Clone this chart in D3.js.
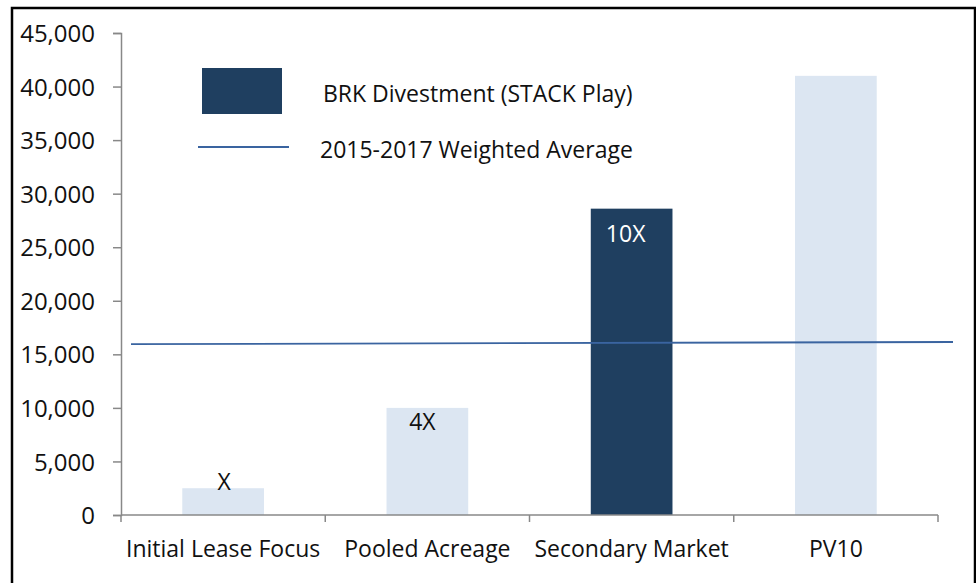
<!DOCTYPE html>
<html lang="en">
<head>
    <meta charset="utf-8">
    <title>BRK Divestment</title>
    <script src="https://d3js.org/d3.v7.min.js"></script>
    <style>
        body { margin: 0; background: #fff; }
        text { font-family: "Open Sans", "Noto Sans", sans-serif; fill: #111; }
    </style>
</head>
<body>
<svg width="976" height="583"></svg>
<script>
    // data
    var categories = ["Initial Lease Focus", "Pooled Acreage", "Secondary Market", "PV10"];
    var values = [2500, 10000, 28600, 41000];
    var highlight = [false, false, true, false];
    var barLabels = ["X", "4X", "10X", ""];
    var avgLine = [15950, 16150];   // 2015-2017 weighted average, start / end
    var yTicks = [0, 5000, 10000, 15000, 20000, 25000, 30000, 35000, 40000, 45000];

    // label nudges (the labels were hand placed in the original)
    var labelDx = [1, -5, -6, 0];
    var labelDy = [2, 22, 33, 0];

    var marge = {top:33, left:121, right:38, bottom:68};
    var width = 976, height = 583;
    var svg = d3.select("svg");

    // outer frame
    svg.append("rect")
        .attr("x", 12).attr("y", 8)
        .attr("width", 963).attr("height", 600)
        .attr("fill", "none")
        .attr("stroke", "#000")
        .attr("stroke-width", 2.5);

    var plotW = width - marge.left - marge.right;   // 817
    var plotH = 515 - marge.top;                    // 482

    var xScale = d3.scaleBand()
        .domain(categories)
        .range([0, plotW])
        .paddingInner(0.6)
        .paddingOuter(0.3);

    var yScale = d3.scaleLinear()
        .domain([0, 45000])
        .range([plotH, 0]);

    var g = svg.append("g")
        .attr("transform", "translate(" + marge.left + "," + marge.top + ")");

    // bars
    g.selectAll("rect.bar")
        .data(values)
        .enter()
        .append("rect")
        .attr("class", "bar")
        .attr("x", function(d, i){ return xScale(categories[i]); })
        .attr("y", function(d){ return yScale(d); })
        .attr("width", xScale.bandwidth())
        .attr("height", function(d){ return plotH - yScale(d); })
        .attr("fill", function(d, i){ return highlight[i] ? "#1f3f60" : "#dce6f2"; });

    // bar labels
    g.selectAll("text.lbl")
        .data(values)
        .enter()
        .append("text")
        .attr("class", "lbl")
        .attr("x", function(d, i){ return xScale(categories[i]) + xScale.bandwidth() / 2 + labelDx[i]; })
        .attr("y", function(d, i){ return yScale(d) + labelDy[i]; })
        .attr("text-anchor", "middle")
        .style("font-size", "23px")
        .style("fill", function(d, i){ return highlight[i] ? "#fff" : "#111"; })
        .text(function(d, i){ return barLabels[i]; });

    // y axis
    var yAxis = d3.axisLeft(yScale)
        .tickValues(yTicks)
        .tickSize(8)
        .tickPadding(18)
        .tickFormat(d3.format(","));
    var ya = g.append("g").call(yAxis);
    ya.select(".domain").attr("stroke", "#888").attr("stroke-width", 1.5);
    ya.selectAll(".tick line").attr("stroke", "#888").attr("stroke-width", 1.5);
    ya.selectAll(".tick text").style("font-size", "24px").attr("dy", "0.36em");

    // x axis with ticks at category boundaries
    var xEdge = d3.scaleLinear().domain([0, categories.length]).range([0, plotW]);
    var xa = g.append("g")
        .attr("transform", "translate(0," + plotH + ")");
    xa.append("line")
        .attr("x1", 0).attr("x2", plotW)
        .attr("stroke", "#888").attr("stroke-width", 1.5);
    xa.selectAll("line.tk")
        .data(d3.range(categories.length + 1))
        .enter()
        .append("line")
        .attr("class", "tk")
        .attr("x1", function(d){ return xEdge(d); })
        .attr("x2", function(d){ return xEdge(d); })
        .attr("y1", 0).attr("y2", 7)
        .attr("stroke", "#888").attr("stroke-width", 1.5);
    xa.selectAll("text")
        .data(categories)
        .enter()
        .append("text")
        .attr("x", function(d){ return xScale(d) + xScale.bandwidth() / 2; })
        .attr("y", 42)
        .attr("text-anchor", "middle")
        .style("font-size", "23px")
        .text(function(d){ return d; });

    // weighted average line (runs a little past the plot edges)
    var xLine = d3.scaleLinear().domain([0, 1]).range([10, plotW + 15]);
    g.append("line")
        .attr("x1", xLine(0)).attr("y1", yScale(avgLine[0]))
        .attr("x2", xLine(1)).attr("y2", yScale(avgLine[1]))
        .attr("stroke", "#3a64a0")
        .attr("stroke-width", 1.8);

    // legend
    var lg = svg.append("g");
    lg.append("rect")
        .attr("x", 202).attr("y", 68)
        .attr("width", 80).attr("height", 46)
        .attr("fill", "#1f3f60");
    lg.append("text")
        .attr("x", 323).attr("y", 102)
        .style("font-size", "23px")
        .text("BRK Divestment (STACK Play)");
    lg.append("line")
        .attr("x1", 198).attr("x2", 289)
        .attr("y1", 147).attr("y2", 147)
        .attr("stroke", "#3a64a0")
        .attr("stroke-width", 1.8);
    lg.append("text")
        .attr("x", 320).attr("y", 158)
        .style("font-size", "23px")
        .text("2015-2017 Weighted Average");
</script>
</body>
</html>
